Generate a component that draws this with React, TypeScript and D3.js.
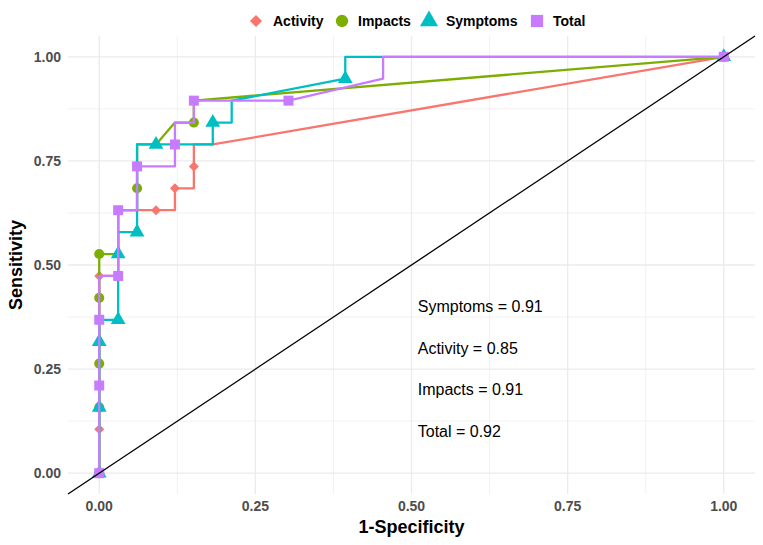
import React from "react";
import * as d3 from "d3";

const N_NEG = 33;
const N_POS = 19;

const seriesNames = ["Activity", "Impacts", "Symptoms", "Total"];
const seriesColors = ["#F8766D", "#7CAE00", "#00BFC4", "#C77CFF"];

// ROC paths (counts of false positives out of 33, true positives out of 19)
const activityLineFP = [0, 0, 1, 1, 2, 4, 4, 5, 5, 6, 33];
const activityLineTP = [0, 9, 9, 12, 12, 12, 13, 13, 15, 15, 19];
const activityPtFP = [0, 0, 0, 3, 4, 5, 33];
const activityPtTP = [0, 2, 9, 12, 13, 14, 19];

const impactsLineFP = [0, 0, 1, 1, 2, 2, 3, 4, 5, 5, 33];
const impactsLineTP = [0, 10, 10, 12, 12, 15, 15, 16, 16, 17, 19];
const impactsPtFP = [0, 0, 0, 0, 0, 2, 5, 33];
const impactsPtTP = [0, 3, 5, 8, 10, 13, 16, 19];

const symptomsLineFP = [0, 0, 1, 1, 2, 2, 6, 6, 7, 7, 13, 13, 33];
const symptomsLineTP = [0, 7, 7, 11, 11, 15, 15, 16, 16, 17, 18, 19, 19];
const symptomsPtFP = [0, 0, 0, 1, 1, 2, 3, 6, 13, 33];
const symptomsPtTP = [0, 3, 6, 7, 10, 11, 15, 16, 18, 19];

const totalLineFP = [0, 0, 1, 1, 2, 2, 4, 4, 5, 5, 10, 15, 15, 33];
const totalLineTP = [0, 9, 9, 12, 12, 14, 14, 16, 16, 17, 17, 18, 19, 19];
const totalPtFP = [0, 0, 0, 1, 1, 2, 4, 5, 10, 33];
const totalPtTP = [0, 4, 7, 9, 12, 14, 15, 17, 17, 19];

const lineFP = [activityLineFP, impactsLineFP, symptomsLineFP, totalLineFP];
const lineTP = [activityLineTP, impactsLineTP, symptomsLineTP, totalLineTP];
const ptFP = [activityPtFP, impactsPtFP, symptomsPtFP, totalPtFP];
const ptTP = [activityPtTP, impactsPtTP, symptomsPtTP, totalPtTP];

const annotations = ["Symptoms = 0.91", "Activity = 0.85", "Impacts = 0.91", "Total = 0.92"];
const annotationY = [0.4, 0.3, 0.2, 0.1];
const annotationX = 0.51;

const tickValues = [0, 0.25, 0.5, 0.75, 1];
const minorValues = [0.125, 0.375, 0.625, 0.875];

const W = 763;
const H = 545;

function shapePath(i: number, scale: number) {
  if (i === 0) return d3.symbol(d3.symbolSquare, 50 * scale)()!;
  if (i === 1) return d3.symbol(d3.symbolCircle, 80 * scale)()!;
  if (i === 2) return d3.symbol(d3.symbolTriangle, 95 * scale)()!;
  return d3.symbol(d3.symbolSquare, 100 * scale)()!;
}

export default function App() {
  const x = d3.scaleLinear().domain([-0.05, 1.05]).range([68, 755]);
  const y = d3.scaleLinear().domain([-0.05, 1.05]).range([494, 36]);
  const x0 = 68, x1 = 755, y0 = 494, y1 = 36;
  const line = d3
    .line<[number, number]>()
    .x((d) => x(d[0]))
    .y((d) => y(d[1]));

  const legendX = [256, 342, 429, 537];
  const legendTextX = [273, 358, 446, 553];

  return (
    <svg width={W} height={H} style={{ position: "absolute", left: 0, top: 0, background: "#fff" }}
      fontFamily="Liberation Sans, Arial, sans-serif">
      {/* grid */}
      {minorValues.map((v) => (
        <g key={"m" + v}>
          <line x1={x(v)} x2={x(v)} y1={y0} y2={y1} stroke="#EBEBEB" strokeWidth={0.7} />
          <line x1={x0} x2={x1} y1={y(v)} y2={y(v)} stroke="#EBEBEB" strokeWidth={0.7} />
        </g>
      ))}
      {tickValues.map((v) => (
        <g key={"M" + v}>
          <line x1={x(v)} x2={x(v)} y1={y0} y2={y1} stroke="#EBEBEB" strokeWidth={1.3} />
          <line x1={x0} x2={x1} y1={y(v)} y2={y(v)} stroke="#EBEBEB" strokeWidth={1.3} />
        </g>
      ))}

      {/* series */}
      {seriesNames.map((name, i) => {
        const pts: [number, number][] = lineFP[i].map((f, k) => [f / N_NEG, lineTP[i][k] / N_POS]);
        return (
          <g key={name}>
            <path d={line(pts)!} fill="none" stroke={seriesColors[i]} strokeWidth={2.3} strokeLinejoin="round" />
            {ptFP[i].map((f, k) => (
              <path
                key={k}
                d={shapePath(i, 1)}
                transform={`translate(${x(f / N_NEG)},${y(ptTP[i][k] / N_POS)})${i === 0 ? " rotate(45)" : ""}`}
                fill={seriesColors[i]}
              />
            ))}
          </g>
        );
      })}

      {/* diagonal reference */}
      <line x1={x(-0.05)} y1={y(-0.05)} x2={x(1.05)} y2={y(1.05)} stroke="#000" strokeWidth={1.3} />

      {/* annotations */}
      {annotations.map((t, i) => (
        <text key={t} x={x(annotationX)} y={y(annotationY[i])} dominantBaseline="central" fontSize={16} fill="#000">
          {t}
        </text>
      ))}

      {/* axes labels */}
      {tickValues.map((v) => (
        <text key={"xt" + v} x={x(v)} y={506} textAnchor="middle" dominantBaseline="central"
          fontSize={14} fontWeight="bold" fill="#4D4D4D">
          {d3.format(".2f")(v)}
        </text>
      ))}
      {tickValues.map((v) => (
        <text key={"yt" + v} x={61} y={y(v)} textAnchor="end" dominantBaseline="central"
          fontSize={14} fontWeight="bold" fill="#4D4D4D">
          {d3.format(".2f")(v)}
        </text>
      ))}
      <text x={x(0.5)} y={527} textAnchor="middle" dominantBaseline="central" fontSize={18} fontWeight="bold" fill="#000">
        1-Specificity
      </text>
      <text transform={`translate(16,${(y0 + y1) / 2}) rotate(-90)`} textAnchor="middle" dominantBaseline="central"
        fontSize={18} fontWeight="bold" fill="#000">
        Sensitivity
      </text>

      {/* legend */}
      {seriesNames.map((name, i) => (
        <g key={"lg" + name}>
          <path d={shapePath(i, 1.5)} transform={`translate(${legendX[i]},21)${i === 0 ? " rotate(45)" : ""}`}
            fill={seriesColors[i]} />
          <text x={legendTextX[i]} y={21} dominantBaseline="central" fontSize={14} fontWeight="bold" fill="#000">
            {name}
          </text>
        </g>
      ))}
    </svg>
  );
}
